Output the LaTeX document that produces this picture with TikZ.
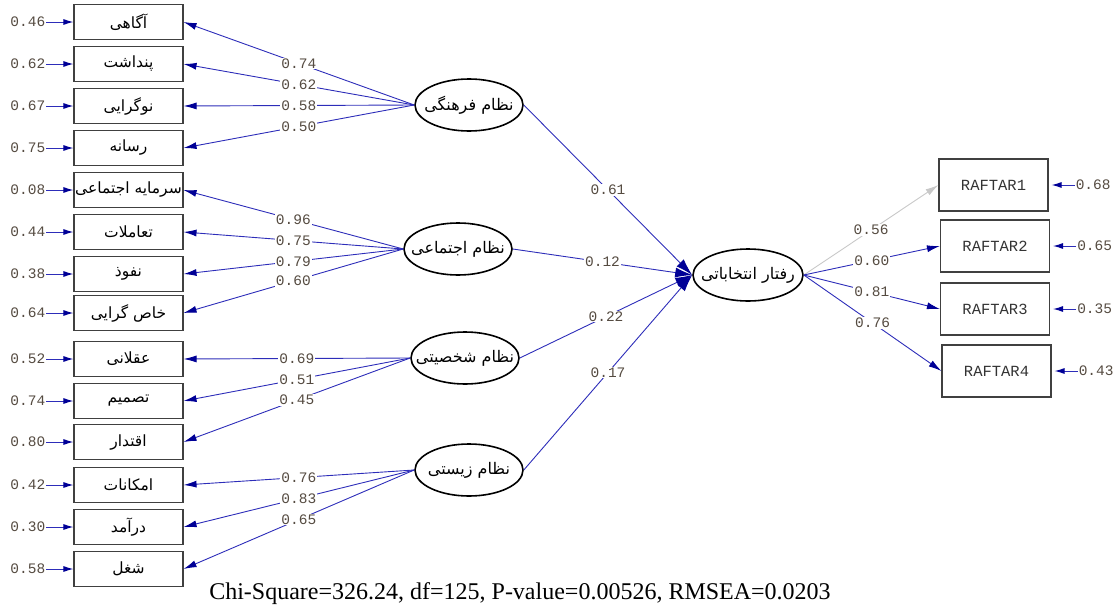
\documentclass[tikz,border=0pt]{standalone}
\usepackage{fontspec}
\setmainfont{Liberation Serif}
\newfontfamily\arabicfont[Script=Arabic]{DejaVu Sans}
\newfontfamily\monofont{Liberation Mono}
\TeXXeTstate=1
\usetikzlibrary{shapes.geometric,arrows.meta,calc}
\definecolor{lineblue}{RGB}{45,45,185}
\definecolor{headblue}{RGB}{0,0,150}
\definecolor{labgray}{RGB}{85,75,65}
\definecolor{lightline}{RGB}{200,200,200}
\tikzset{
  ind/.style={draw=black!75, line width=1.1pt, minimum width=109pt, minimum height=35pt, inner sep=0pt, font=\arabicfont\fontsize{15.5}{15.5}\selectfont},
  lat/.style={ellipse, draw=black, line width=1.6pt, minimum width=108pt, minimum height=52pt, inner sep=0pt},
  lattext/.style={font=\arabicfont\fontsize{16}{16}\selectfont, inner sep=0pt},
  obox/.style={draw=black!75, line width=1.1pt, minimum width=109pt, minimum height=52pt, inner sep=0pt, font=\monofont\fontsize{15.5}{15.5}\selectfont, text=black!80},
  val/.style={font=\monofont\fontsize{14.5}{14.5}\selectfont, text=labgray, inner sep=1pt},
  lab/.style={val, fill=white},
  ld/.style={draw=lineblue, line width=0.9pt, -{Latex[length=13pt,width=7pt,color=headblue]}},
  sp/.style={draw=lineblue, line width=0.9pt, -{Latex[length=17pt,width=10pt,color=headblue]}},
  res/.style={draw=lineblue, line width=1pt, -{Latex[length=10pt,width=6pt,color=headblue]}},
}
\begin{document}
\begin{tikzpicture}[x=1pt,y=-1pt]
\useasboundingbox (0,0) rectangle (1120,608);
% left indicators
\node[ind] (b1) at (128.5,22) {\beginR آگاهی\endR};
\node[ind] (b2) at (128.5,64) {\beginR پنداشت\endR};
\node[ind] (b3) at (128.5,106) {\beginR نوگرایی\endR};
\node[ind] (b4) at (128.5,148) {\beginR رسانه\endR};
\node[ind] (b5) at (128.5,190) {\beginR سرمایه اجتماعی\endR};
\node[ind] (b6) at (128.5,232) {\beginR تعاملات\endR};
\node[ind] (b7) at (128.5,274) {\beginR نفوذ\endR};
\node[ind] (b8) at (128.5,313) {\beginR خاص گرایی\endR};
\node[ind] (b9) at (128.5,359) {\beginR عقلانی\endR};
\node[ind] (b10) at (128.5,401) {\beginR تصمیم\endR};
\node[ind] (b11) at (128.5,442) {\beginR اقتدار\endR};
\node[ind] (b12) at (128.5,485) {\beginR امکانات\endR};
\node[ind] (b13) at (128.5,527) {\beginR درآمد\endR};
\node[ind] (b14) at (128.5,569) {\beginR شغل\endR};
% residuals left
\foreach \i/\v in {1/0.46,2/0.62,3/0.67,4/0.75,5/0.08,6/0.44,7/0.38,8/0.64,9/0.52,10/0.74,11/0.80,12/0.42,13/0.30,14/0.58}{
  \node[val, anchor=east] (e\i) at ($(b\i.west)+(-27,0)$) {\v};
  \draw[res] (e\i.east) -- (b\i.west);
}
% latent
\node[lat, label={[lattext]center:\beginR نظام فرهنگی\endR}] (f) at (469,105) {};
\node[lat, label={[lattext]center:\beginR نظام اجتماعی\endR}] (s) at (458,249) {};
\node[lat, label={[lattext]center:\beginR نظام شخصیتی\endR}] (p) at (465,358) {};
\node[lat, label={[lattext]center:\beginR نظام زیستی\endR}] (z) at (469,470) {};
\node[lat, minimum width=110pt, label={[lattext]center:\beginR رفتار انتخاباتی\endR}] (r) at (748,275) {};
% right indicators
\node[obox] (R1) at (993.5,185) {RAFTAR1};
\node[obox] (R2) at (995,246) {RAFTAR2};
\node[obox] (R3) at (995,309) {RAFTAR3};
\node[obox] (R4) at (996.5,371) {RAFTAR4};
\foreach \i/\v in {1/0.68,2/0.65,3/0.35,4/0.43}{
  \node[val, anchor=west] (q\i) at ($(R\i.east)+(26,0)$) {\v};
  \draw[res] (q\i.west) -- ($(R\i.east)+(3,0)$);
}
% loadings
\draw[ld] (f.west) -- node[lab]{0.74} (b1.east);
\draw[ld] (f.west) -- node[lab]{0.62} (b2.east);
\draw[ld] (f.west) -- node[lab]{0.58} (b3.east);
\draw[ld] (f.west) -- node[lab]{0.50} (b4.east);
\draw[ld] (s.west) -- node[lab]{0.96} (b5.east);
\draw[ld] (s.west) -- node[lab]{0.75} (b6.east);
\draw[ld] (s.west) -- node[lab]{0.79} (b7.east);
\draw[ld] (s.west) -- node[lab]{0.60} (b8.east);
\draw[ld] (p.west) -- node[lab]{0.69} (b9.east);
\draw[ld] (p.west) -- node[lab]{0.51} (b10.east);
\draw[ld] (p.west) -- node[lab]{0.45} (b11.east);
\draw[ld] (z.west) -- node[lab]{0.76} (b12.east);
\draw[ld] (z.west) -- node[lab]{0.83} (b13.east);
\draw[ld] (z.west) -- node[lab]{0.65} (b14.east);
% structural
\draw[sp] (f.east) -- node[lab]{0.61} (r.west);
\draw[sp] (s.east) -- node[lab]{0.12} (r.west);
\draw[sp] (p.east) -- node[lab]{0.22} (r.west);
\draw[sp] (z.east) -- node[lab]{0.17} (r.west);
% outcome loadings
\draw[draw=lightline, line width=0.9pt, -{Latex[length=13pt,width=7pt,color=lightline]}] (r.east) -- node[lab]{0.56} (R1.west);
\draw[ld] (r.east) -- node[lab]{0.60} (R2.west);
\draw[ld] (r.east) -- node[lab]{0.81} (R3.west);
\draw[ld] (r.east) -- node[lab]{0.76} (R4.west);
% fit
\node[font=\fontsize{24}{24}\selectfont] (fit) at (520,594) {Chi-Square=326.24, df=125, P-value=0.00526, RMSEA=0.0203};
\end{tikzpicture}
\end{document}
